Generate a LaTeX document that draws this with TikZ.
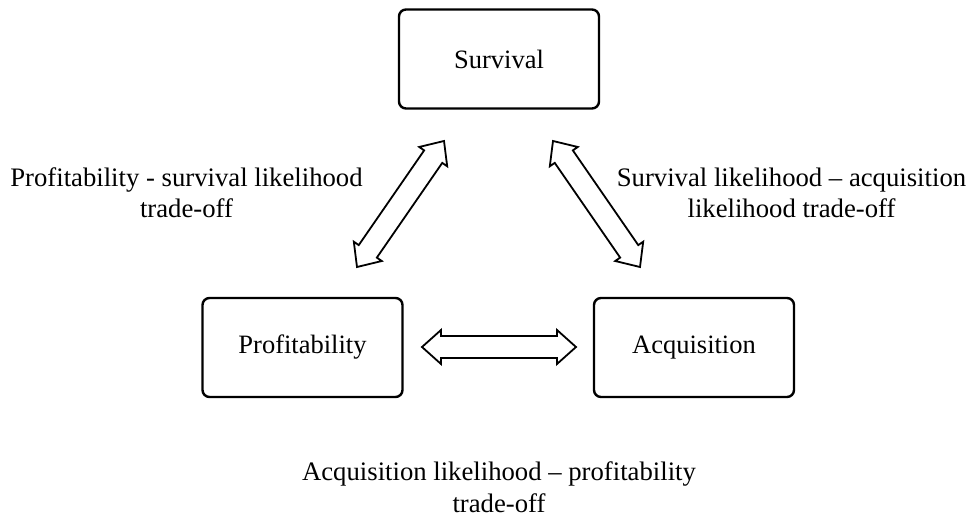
\documentclass[tikz,border=0pt]{standalone}
\usepackage{fontspec}
\setmainfont{Liberation Serif}
\usetikzlibrary{calc}
\tikzset{
  box/.style={draw, line width=2.4pt, rounded corners=7pt, minimum width=200pt,
    minimum height=99pt, inner sep=0pt, font=\fontsize{26.5}{31.5}\selectfont},
  lbl/.style={align=center, anchor=base, inner sep=0pt,
    font=\fontsize{26.7}{31.8}\selectfont},
  blockarrow/.style={draw, line width=1.8pt, line join=miter, fill=white}
}
\newcommand\dblarrow[2]{%
  \draw[blockarrow] (#1)
    -- ($(#1)!19pt!(#2)!17pt!90:(#2)$)
    -- ($(#1)!19pt!(#2)!11pt!90:(#2)$)
    -- ($(#2)!19pt!(#1)!11pt!-90:(#1)$)
    -- ($(#2)!19pt!(#1)!17pt!-90:(#1)$)
    -- (#2)
    -- ($(#2)!19pt!(#1)!17pt!90:(#1)$)
    -- ($(#2)!19pt!(#1)!11pt!90:(#1)$)
    -- ($(#1)!19pt!(#2)!11pt!-90:(#2)$)
    -- ($(#1)!19pt!(#2)!17pt!-90:(#2)$)
    -- cycle;}
\begin{document}
\begin{tikzpicture}[x=1pt,y=-1pt]
  \useasboundingbox (0,0) rectangle (972,518);
  \node[box] (surv) at (499,59) {Survival};
  \node[box] (prof) at (302.5,347.5) {Profitability};
  \node[box] (acq) at (694,347.5) {Acquisition};

  \coordinate (l1) at (444,141);
  \coordinate (l2) at (357,267);
  \coordinate (r1) at (553,141);
  \coordinate (r2) at (640,267);
  \coordinate (h1) at (422,347);
  \coordinate (h2) at (576,347);
  \dblarrow{l1}{l2}
  \dblarrow{r1}{r2}
  \dblarrow{h1}{h2}

  \node[lbl] (lps) at (186.5,218) {Profitability - survival likelihood\\trade-off};
  \node[lbl] (lsa) at (791.5,218) {Survival likelihood -- acquisition\\likelihood trade-off};
  \node[lbl] (lap) at (499,512.5) {Acquisition likelihood -- profitability\\trade-off};
\end{tikzpicture}
\end{document}
